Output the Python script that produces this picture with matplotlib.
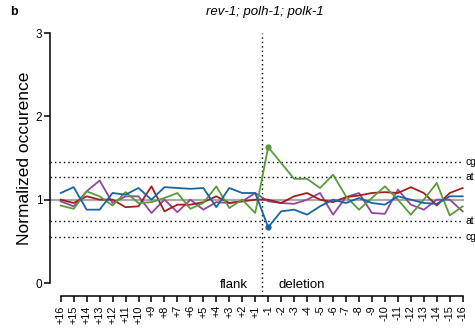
import matplotlib
matplotlib.use("Agg")
import matplotlib.pyplot as plt
import numpy as np

plt.rcParams['font.family'] = ['Liberation Sans', 'DejaVu Sans']

# Positions relative to the deletion junction
positions = [f"+{i}" for i in range(16, 0, -1)] + [f"-{i}" for i in range(1, 17)]

blue = [1.08, 1.15, 0.88, 0.88, 1.08, 1.06, 1.14, 1.00, 1.15, 1.14, 1.13, 1.14, 0.91, 1.14, 1.08, 1.08,
        0.67, 0.86, 0.88, 0.82, 0.92, 1.00, 0.96, 1.02, 0.96, 0.94, 1.04, 1.00, 0.96, 0.95, 1.04, 1.04]
green = [0.93, 0.89, 1.10, 1.04, 0.93, 1.09, 0.96, 0.97, 1.02, 1.08, 0.89, 0.96, 1.16, 0.90, 1.00, 0.84,
         1.63, 1.44, 1.25, 1.25, 1.14, 1.30, 1.04, 0.88, 1.02, 1.16, 1.00, 0.82, 1.00, 1.20, 0.81, 0.92]
red = [1.00, 0.96, 1.04, 1.00, 1.00, 0.91, 0.92, 1.16, 0.86, 0.94, 0.94, 0.97, 1.04, 0.96, 0.98, 1.00,
       1.00, 0.96, 1.04, 1.08, 1.00, 0.97, 1.03, 1.05, 1.08, 1.09, 1.08, 1.15, 1.08, 0.93, 1.08, 1.14]
purple = [0.98, 0.92, 1.10, 1.23, 0.96, 1.04, 1.04, 0.84, 1.00, 0.85, 1.00, 0.88, 0.97, 0.96, 0.98, 1.08,
          0.98, 0.96, 0.95, 1.00, 1.08, 0.82, 1.03, 1.08, 0.84, 0.83, 1.12, 0.94, 0.88, 1.00, 1.00, 0.86]

# Expected frequency thresholds
thresholds = {"cg_hi": 1.45, "at_hi": 1.27, "at_lo": 0.75, "cg_lo": 0.55}
threshold_labels = {"cg_hi": "cg", "at_hi": "at", "at_lo": "at", "cg_lo": "cg"}

W, H = 475, 328
fig = plt.figure(figsize=(W / 100, H / 100), dpi=100)
ax = fig.add_axes([50 / W, 45 / H, (462.7 - 50) / W, 250 / H])

x = np.arange(len(positions))
xmin = -0.825
ax.set_xlim(xmin, len(positions) - 1)
ax.set_ylim(0, 3)

# baseline at 1
ax.plot([xmin, len(positions) - 1], [1, 1], color="#a9a9a9", lw=1.6, zorder=1, clip_on=False)

# threshold lines, labels run off the right edge
for key, val in thresholds.items():
    ax.plot([xmin, len(positions) - 1], [val, val], color="black", lw=1.0,
            linestyle=(0, (1, 2.2)), zorder=1, clip_on=False)
    ax.text(len(positions) - 1 + 0.25, val, threshold_labels[key], fontsize=7.5,
            va="center", ha="left", clip_on=False)

# junction
ax.plot([15.5, 15.5], [-0.16, 3.0], color="black", lw=1.0,
        linestyle=(0, (1, 2.2)), zorder=1, clip_on=False)

lw = 1.3
ax.plot(x, purple, color="#93469b", lw=lw, zorder=2, clip_on=False)
ax.plot(x, red, color="#a51e1e", lw=lw, zorder=3, clip_on=False)
ax.plot(x, green, color="#5a9b3c", lw=lw, zorder=4, clip_on=False)
ax.plot(x, blue, color="#1a64a6", lw=lw, zorder=5, clip_on=False)
ax.plot([16], [green[16]], "o", color="#5a9b3c", ms=3.5, zorder=6, clip_on=False)
ax.plot([16], [blue[16]], "o", color="#1a64a6", ms=3.5, zorder=6, clip_on=False)

ax.text(14.44, -0.03, "flank", fontsize=9.5, ha="right", va="center")
ax.text(16.78, -0.03, "deletion", fontsize=9.5, ha="left", va="center")

for s in ["top", "right"]:
    ax.spines[s].set_visible(False)
ax.spines["left"].set_linewidth(1.1)
ax.spines["bottom"].set_linewidth(1.1)
ax.spines["left"].set_bounds(0, 3)
ax.spines["bottom"].set_bounds(0, len(positions) - 1)
ax.spines["bottom"].set_position(("outward", 9.5))

ax.set_yticks([0, 1, 2, 3])
ax.set_yticklabels(["0", "1", "2", "3"], fontsize=8.5)
ax.set_xticks(x)
ax.set_xticklabels(positions, rotation=90, fontsize=7.8)
ax.tick_params(axis="both", direction="out", width=1.1, length=4, pad=1.5)
ax.tick_params(axis="x", pad=2.5)

ax.set_ylabel("Normalized occurence", fontsize=12.5, labelpad=3)

fig.text(265 / W, 1 - 12 / H, "rev-1; polh-1; polk-1", fontsize=9.5, style="italic",
         ha="center", va="center")
fig.text(10 / W, 1 - 12 / H, "b", fontsize=9, weight="bold", ha="left", va="center")

fig.savefig("out.png", dpi=100)
